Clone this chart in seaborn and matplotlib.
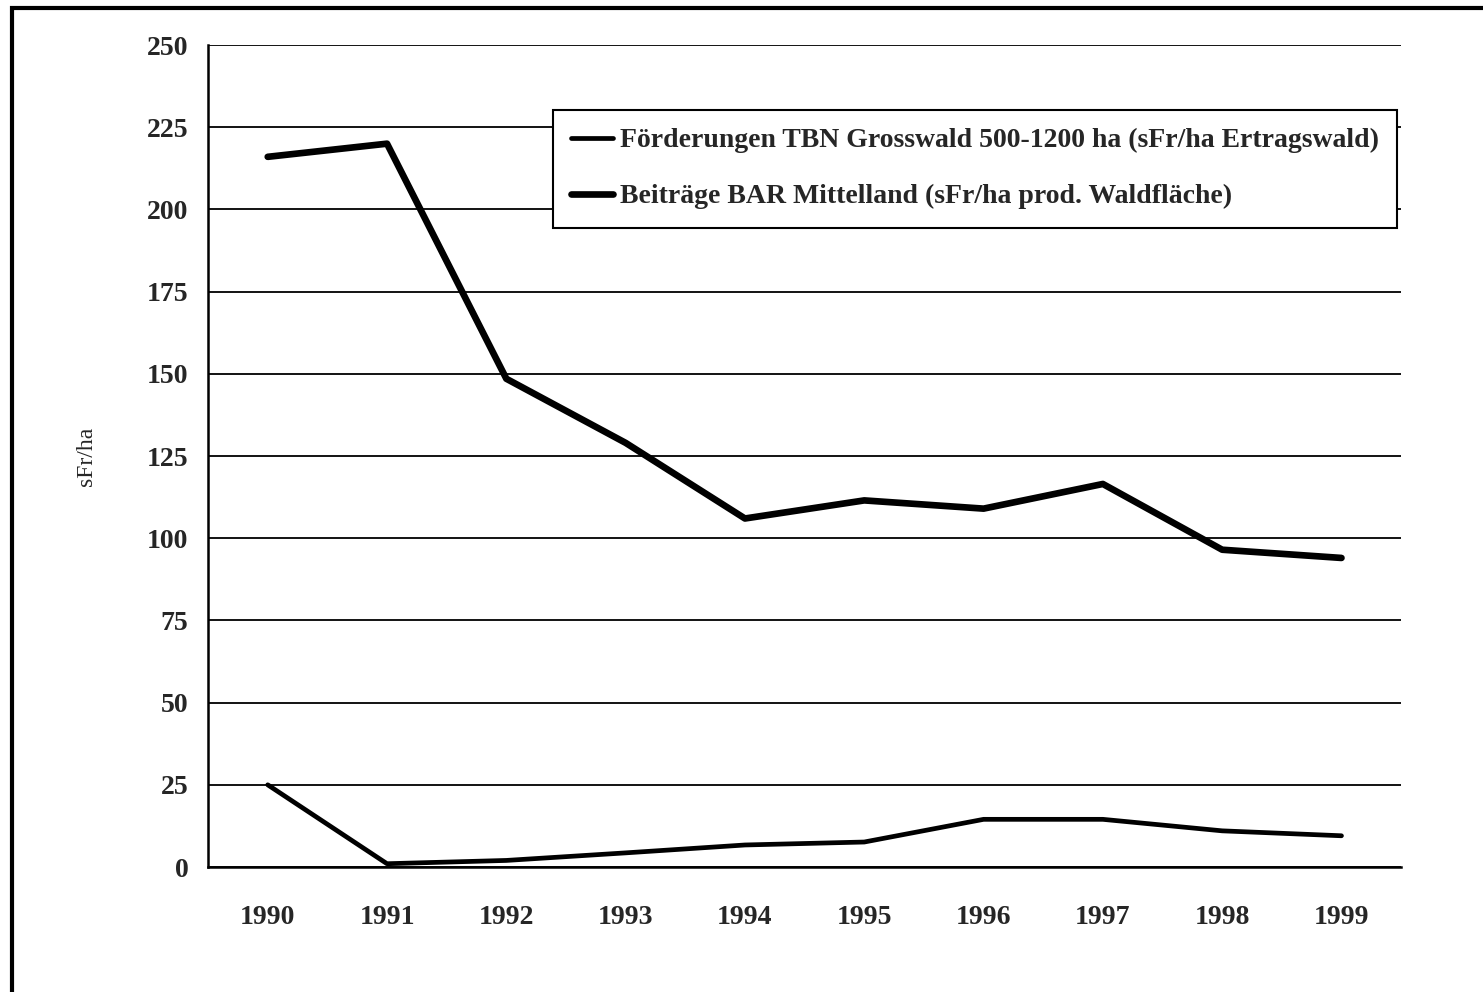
import matplotlib
matplotlib.use("Agg")
import matplotlib.pyplot as plt
import seaborn as sns
import pandas as pd
from matplotlib.patches import Rectangle

years = ["1990", "1991", "1992", "1993", "1994", "1995", "1996", "1997", "1998", "1999"]
foerderungen = [25, 1, 2, 4.3, 6.7, 7.6, 14.5, 14.5, 11, 9.5]
beitraege = [216, 220, 148.5, 129, 106, 111.5, 109, 116.5, 96.5, 94]
label_tbn = "Förderungen TBN Grosswald 500-1200 ha (sFr/ha Ertragswald)"
label_bar = "Beiträge BAR Mittelland (sFr/ha prod. Waldfläche)"

sns.set_style("white")
plt.rcParams['font.family'] = ['Liberation Serif', 'DejaVu Serif']
plt.rcParams['font.weight'] = 'bold'

df = pd.DataFrame({"pos": range(len(years)), "tbn": foerderungen, "bar": beitraege})

fig = plt.figure(figsize=(14.83, 9.92), dpi=100)
ax = fig.add_axes([0.1403, 0.126, 0.8045, 0.8286])

sns.lineplot(data=df, x="pos", y="tbn", ax=ax, color="black", linewidth=3.4, label=label_tbn)
sns.lineplot(data=df, x="pos", y="bar", ax=ax, color="black", linewidth=4.8, label=label_bar)

ax.set_ylim(0, 250)
ax.set_yticks(range(0, 251, 25))
ax.set_xlim(-0.5, len(years) - 0.5)
ax.set_xticks([i - 0.5 for i in range(len(years) + 1)])
ax.set_xticklabels([])
ax.set_xticks(range(len(years)), minor=True)
ax.set_xticklabels(years, minor=True)
ax.tick_params(axis="x", which="major", direction="out", length=8, width=1.5, color="black")
ax.tick_params(axis="x", which="minor", length=0, pad=27, labelsize=20)
ax.tick_params(axis="y", direction="out", length=8, width=1.5, color="black", labelsize=20, pad=6)

ax.yaxis.grid(True, color="black", linewidth=1.3)
ax.set_axisbelow(True)
for side in ["top", "right"]:
    ax.spines[side].set_visible(False)
for side in ["left", "bottom"]:
    ax.spines[side].set_color("black")
    ax.spines[side].set_linewidth(1.8)

ax.set_xlabel("")
ax.set_ylabel("sFr/ha", fontsize=17, labelpad=36)

leg = ax.legend(loc="upper right", bbox_to_anchor=(0.9966, 0.921), borderaxespad=0,
                fontsize=20, frameon=True, fancybox=False, edgecolor="black",
                handlelength=1.5, handletextpad=0.25, borderpad=0.65, labelspacing=1.1,
                framealpha=1)
leg.get_frame().set_linewidth(1.5)

fig.patches.append(Rectangle((12 / 1483, -0.05), 1.2, 1 - 8 / 992 + 0.05,
                             transform=fig.transFigure, fill=False,
                             edgecolor="black", linewidth=3))

fig.savefig("out.png", dpi=100)
